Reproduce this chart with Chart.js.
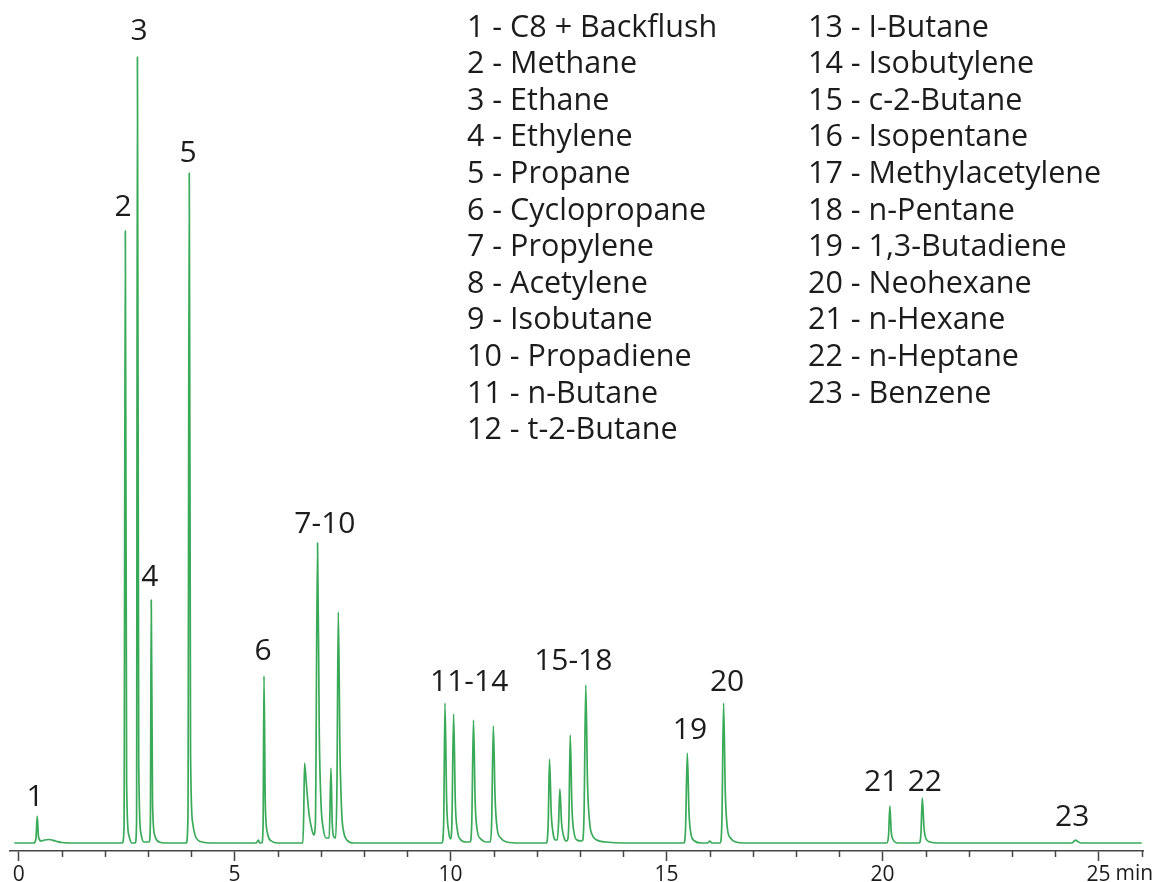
<!DOCTYPE html>
<html>
<head>
<meta charset="utf-8">
<script src="https://cdn.jsdelivr.net/npm/chart.js@4.4.1/dist/chart.umd.min.js"></script>
<style>
  html, body { margin: 0; padding: 0; background: #fff; }
  #wrap { width: 1152px; height: 882px; }
</style>
</head>
<body>
<div id="wrap"><canvas id="chrom"></canvas></div>
<script>
const times = [
    -0.1, 0.35, 0.40, 0.43, 0.46, 0.52, 0.60, 0.70, 0.85, 1.0, 1.3,
    2.40, 2.44, 2.47, 2.50, 2.55, 2.62,
    2.70, 2.73, 2.75, 2.78, 2.83, 2.90,
    3.02, 3.05, 3.07, 3.10, 3.15, 3.25, 3.40,
    3.88, 3.92, 3.95, 3.98, 4.03, 4.10, 4.25, 4.50,
    5.50, 5.55, 5.58,
    5.63, 5.66, 5.68, 5.71, 5.76, 5.85, 6.00,
    6.58, 6.60, 6.62, 6.66, 6.72, 6.78, 6.83,
    6.87, 6.92, 6.96, 7.00, 7.05, 7.12,
    7.19, 7.23, 7.26, 7.30,
    7.34, 7.37, 7.40, 7.44, 7.48, 7.53, 7.60, 7.75,
    9.80, 9.84, 9.87, 9.91, 9.96, 10.00,
    10.03, 10.07, 10.11, 10.16, 10.22, 10.35,
    10.45, 10.49, 10.53, 10.57, 10.62, 10.70, 10.85,
    10.92, 10.95, 10.99, 11.03, 11.08, 11.16, 11.30, 11.60,
    12.22, 12.26, 12.29, 12.33, 12.38, 12.43,
    12.47, 12.50, 12.53, 12.57, 12.63, 12.68,
    12.71, 12.74, 12.77, 12.81, 12.86, 12.93, 13.02,
    13.06, 13.09, 13.13, 13.17, 13.22, 13.28, 13.38, 13.60, 14.00,
    15.40, 15.44, 15.48, 15.52, 15.57, 15.65, 15.80,
    15.95, 16.00, 16.05,
    16.24, 16.28, 16.32, 16.36, 16.41, 16.48, 16.60, 16.80,
    20.10, 20.14, 20.17, 20.20, 20.25, 20.35,
    20.85, 20.89, 20.92, 20.96, 21.01, 21.10, 21.30,
    24.38, 24.44, 24.47, 24.52, 24.60,
    26.0
];
const signal = [
    0, 0, 4, 27, 6, 2, 3, 3.5, 2, 0.5, 0,
    0, 15, 612, 60, 8, 0,
    0, 20, 786, 80, 10, 1,
    1, 20, 243, 40, 8, 1, 0,
    0, 25, 670, 90, 20, 6, 1, 0,
    0, 3, 0,
    0, 20, 167, 40, 10, 2, 0,
    0, 30, 80, 60, 30, 15, 8,
    20, 300, 110, 40, 15, 5,
    5, 75, 20, 6,
    5, 60, 231, 90, 30, 10, 3, 0,
    0, 20, 140, 40, 10, 4,
    20, 129, 40, 12, 4, 1,
    1, 20, 123, 40, 12, 4, 1,
    1, 20, 117, 45, 14, 5, 1, 0,
    0, 20, 84, 30, 8, 3,
    3, 20, 54, 20, 5, 2,
    3, 25, 108, 35, 10, 3, 2,
    3, 30, 158, 60, 20, 8, 3, 1, 0,
    0, 15, 90, 30, 8, 2, 0,
    0, 2, 0,
    0, 20, 140, 50, 14, 5, 1, 0,
    0, 8, 37, 12, 3, 0,
    0, 10, 45, 15, 4, 1, 0,
    0, 2, 3, 1.5, 0,
    0
];

const majorTicks = [0, 5, 10, 15, 20, 25];

// peak numbers written over the trace: text, time (min), signal level
const tagText  = ['1', '2', '3', '4', '5', '6', '7-10', '11-14', '15-18', '19', '20', '21', '22', '23'];
const tagTime  = [0.38, 2.42, 2.79, 3.04, 3.92, 5.66, 7.09, 10.43, 12.84, 15.54, 16.40, 19.97, 20.98, 24.39];
const tagLevel = [46, 636, 812, 266, 690, 192, 319, 161, 182, 113, 161, 61, 61, 26];

const compoundsLeft = [
    '1 - C8 + Backflush', '2 - Methane', '3 - Ethane', '4 - Ethylene', '5 - Propane',
    '6 - Cyclopropane', '7 - Propylene', '8 - Acetylene', '9 - Isobutane',
    '10 - Propadiene', '11 - n-Butane', '12 - t-2-Butane'
];
const compoundsRight = [
    '13 - I-Butane', '14 - Isobutylene', '15 - c-2-Butane', '16 - Isopentane',
    '17 - Methylacetylene', '18 - n-Pentane', '19 - 1,3-Butadiene', '20 - Neohexane',
    '21 - n-Hexane', '22 - n-Heptane', '23 - Benzene'
];

const FONT = '"Open Sans", "Noto Sans", sans-serif';
const INK = '#1c1c1c';

const textLayer = {
    id: 'textLayer',
    afterDraw(chart) {
        const { ctx, scales: { x, y } } = chart;
        ctx.save();

        // minor ticks every minute
        ctx.strokeStyle = '#444';
        ctx.lineWidth = 1.5;
        for (let m = 1; m <= 26; m++) {
            if (m % 5 === 0) continue;
            const px = Math.round(x.getPixelForValue(m)) + 0.5;
            ctx.beginPath();
            ctx.moveTo(px, x.top);
            ctx.lineTo(px, x.top + 6);
            ctx.stroke();
        }

        // unit after the last tick label
        ctx.font = '21px ' + FONT;
        ctx.fillStyle = INK;
        ctx.textBaseline = 'middle';
        ctx.textAlign = 'left';
        const p25 = x.getPixelForValue(25);
        ctx.fillText('min', p25 + ctx.measureText('25').width / 2 + 5, x.top + 23);

        // peak labels
        ctx.font = '30px ' + FONT;
        ctx.textAlign = 'center';
        tagText.forEach((t, i) => {
            ctx.fillText(t, x.getPixelForValue(tagTime[i]), y.getPixelForValue(tagLevel[i]));
        });

        // compound list
        ctx.font = '30.5px ' + FONT;
        ctx.textAlign = 'left';
        compoundsLeft.forEach((s, i) => ctx.fillText(s, 467, 28 + i * 36.6));
        compoundsRight.forEach((s, i) => ctx.fillText(s, 808, 28 + i * 36.6));

        ctx.restore();
    }
};

new Chart(document.getElementById('chrom'), {
    type: 'line',
    data: {
        datasets: [{
            data: times.map((t, i) => ({ x: t, y: signal[i] })),
            borderColor: 'rgb(56, 170, 88)',
            borderWidth: 1.7,
            pointRadius: 0,
            cubicInterpolationMode: 'monotone',
            fill: false
        }]
    },
    options: {
        responsive: true,
        maintainAspectRatio: false,
        animation: false,
        layout: { padding: { left: 10, right: 9, top: 0, bottom: 0 } },
        plugins: { legend: { display: false }, tooltip: { enabled: false } },
        scales: {
            x: {
                type: 'linear',
                min: -0.2,
                max: 26.03,
                afterBuildTicks: s => { s.ticks = majorTicks.map(v => ({ value: v })); },
                afterFit: s => { s.height = 31; },
                ticks: {
                    autoSkip: false,
                    maxRotation: 0,
                    padding: 1,
                    color: INK,
                    font: { family: FONT, size: 21, lineHeight: 1.2 }
                },
                grid: { drawOnChartArea: false, tickLength: 10, tickColor: '#444', tickWidth: 1.5 },
                border: { color: '#444', width: 1.5 }
            },
            y: { display: false, min: -8, max: 843 }
        }
    },
    plugins: [textLayer]
});
</script>
</body>
</html>
